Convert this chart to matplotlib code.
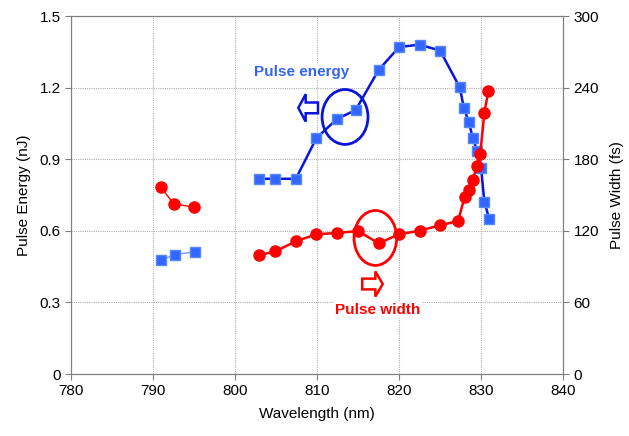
import numpy as np
import matplotlib
matplotlib.use('Agg')
import matplotlib.pyplot as plt
from matplotlib.patches import Ellipse, FancyArrow

plt.rcParams['font.family'] = ['Liberation Sans', 'DejaVu Sans']

# pulse energy (left axis)
wl_e1 = [791.0, 792.6, 795.1]
energy1 = [0.478, 0.500, 0.512]
wl_e2 = [802.9, 804.9, 807.4, 809.9, 812.4, 814.7, 817.5, 820.0, 822.5, 825.0,
         827.4, 827.9, 828.5, 829.0, 829.5, 830.0, 830.4, 831.0]
energy2 = [0.818, 0.818, 0.818, 0.988, 1.068, 1.106, 1.274, 1.370, 1.380, 1.355,
           1.201, 1.115, 1.055, 0.989, 0.936, 0.864, 0.722, 0.649]

# pulse width (right axis)
wl_w1 = [790.9, 792.5, 795.0]
width1 = [156.5, 142.7, 139.7]
wl_w2 = [802.9, 804.9, 807.4, 809.9, 812.4, 815.0, 817.5, 820.0, 822.5, 825.0,
         827.2, 828.0, 828.5, 829.0, 829.5, 829.9, 830.4, 830.9]
width2 = [99.5, 102.8, 111.2, 117.1, 118.2, 119.8, 109.5, 117.1, 120.1, 124.6,
          128.2, 148.6, 154.2, 162.6, 174.6, 184.4, 219.0, 237.4]

blue_line = '#0a14dc'
blue_mk = '#3366ff'
red = '#ff0000'
gray = '#808080'

fig = plt.figure(figsize=(6.29, 4.36), dpi=100)
ax = fig.add_axes([0.1134, 0.1422, 0.7817, 0.8211])
ax2 = ax.twinx()

ax.set_xlim(780, 840)
ax.set_ylim(0, 1.5)
ax2.set_ylim(0, 300)
ax.set_xticks(np.arange(780, 841, 10))
ax.set_yticks(np.arange(0, 1.51, 0.3))
ax.set_yticklabels(['0', '0.3', '0.6', '0.9', '1.2', '1.5'])
ax2.set_yticks(np.arange(0, 301, 60))

ax.grid(True, color='#b0b0b0', linestyle=(0, (1, 1)), linewidth=0.8)
ax.set_axisbelow(True)

# blue on primary axis
ax.plot(wl_e1, energy1, '-s', color='#7799ff', lw=1.0, ms=7, mec='#5588ff', mfc=blue_mk, zorder=3)
ax.plot(wl_e2, energy2, '-s', color=blue_line, lw=1.8, ms=6.5, mec='#5588ff', mfc=blue_mk, zorder=3)

# red on secondary axis (drawn above)
ax2.plot(wl_w1, width1, '-o', color=red, lw=1.0, ms=8, mec=red, mfc=red, zorder=3)
ax2.plot(wl_w2, width2, '-o', color=red, lw=1.8, ms=8, mec=red, mfc=red, zorder=3)

# annotations
ax.add_patch(Ellipse((813.4, 1.077), 5.6, 0.23, fill=False, ec=blue_line, lw=2.0, zorder=4))
ax.add_patch(Ellipse((817.1, 0.570), 5.2, 0.23, fill=False, ec=red, lw=2.0, zorder=4))
ax.add_patch(FancyArrow(810.1, 1.115, -2.4, 0, width=0.045, head_width=0.115,
                        head_length=0.9, length_includes_head=True,
                        fc='white', ec=blue_line, lw=1.8, zorder=4))
ax.add_patch(FancyArrow(815.5, 0.377, 2.5, 0, width=0.045, head_width=0.105,
                        head_length=0.9, length_includes_head=True,
                        fc='white', ec=red, lw=1.8, zorder=4))
ax.text(808.1, 1.265, 'Pulse energy', color='#3366ee', fontsize=11, fontweight='bold',
        ha='center', va='center', zorder=5,
        bbox=dict(fc='white', ec='none', pad=1))
ax.text(817.4, 0.268, 'Pulse width', color=red, fontsize=11, fontweight='bold',
        ha='center', va='center', zorder=5,
        bbox=dict(fc='white', ec='none', pad=1))

for a in (ax, ax2):
    for s in a.spines.values():
        s.set_color(gray)
    a.tick_params(colors=gray, labelcolor='black', labelsize=11, length=4)

ax.set_xlabel('Wavelength (nm)', fontsize=11, labelpad=6)
ax.set_ylabel('Pulse Energy (nJ)', fontsize=11, labelpad=6)
ax2.set_ylabel('Pulse Width (fs)', fontsize=11, labelpad=8)

fig.savefig('out.png', dpi=100)
